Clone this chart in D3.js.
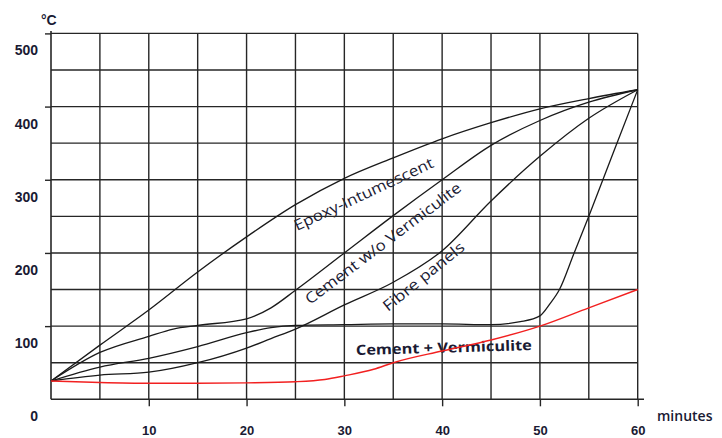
<!DOCTYPE html>
<html>
<head>
<meta charset="utf-8">
<script src="https://cdn.jsdelivr.net/npm/d3@7"></script>
<style>
  body { margin: 0; background: #fff; }
  svg { display: block; }
</style>
</head>
<body>
<svg id="chart" width="722" height="438"></svg>
<script>
// Axis ticks
const minuteTicks = [10, 20, 30, 40, 50, 60];
const degreeTicks = [0, 100, 200, 300, 400, 500];

// Temperature (°C) against time (minutes): [minute, °C]
const epoxyIntumescent = [[0,25],[5,74],[10,122],[15,174],[20,222],[25,266],[30,302],[35,330],[40,356],[45,378],[50,397],[55,411],[60,423]];
const cementWithoutVermiculite = [[0,25],[5,64],[10,86],[12.5,96],[15,101],[20,110],[22.5,125],[25,149],[30,200],[35,251],[40,300],[45,347],[50,381],[55,406],[60,423]];
const fibrePanels = [[0,25],[5,33],[10,37],[15,50],[20,70],[22.5,83],[25,96],[30,129],[35,160],[40,203],[45,271],[50,332],[55,384],[60,423]];
const plateauThenRise = [[0,25],[5,44],[10,56],[15,72],[20,91],[22.5,98],[25,101],[30,102],[35,103],[40,103],[45,102],[48,106],[50,114],[51,130],[52,150],[53.5,200],[55,250],[57.5,337],[60,423]];
const cementVermiculite = [[0,25],[5,23],[10,22],[15,22],[20,22.5],[25,24],[28,27],[30,32],[33,41],[35,50],[40,66],[45,81],[50,100],[55,125],[60,150]];

const svg = d3.select("#chart");
const x = d3.scaleLinear().domain([0, 60]).range([51, 637.7]);
const y = d3.scaleLinear().domain([0, 500]).range([399.3, 33.4]);

const inkText = "#1a1a33";
const gridInk = "#262626";

// Curve labels (drawn under the grid and curves)
const curveLabels = svg.append("g").attr("fill", inkText)
  .style("font-family", "'Open Sans', sans-serif");

function curveLabel(text, px, py, angle, len, size, weight) {
  curveLabels.append("text")
    .attr("transform", `translate(${px},${py}) rotate(${angle})`)
    .attr("textLength", len)
    .attr("lengthAdjust", "spacingAndGlyphs")
    .style("font-size", size + "px")
    .style("font-weight", weight)
    .text(text);
}
curveLabel("Epoxy-Intumescent", 297, 231, -25, 152, 15, 400);
curveLabel("Cement w/o Vermiculite", 310, 305, -37, 191, 15, 400);
curveLabel("Fibre panels", 388, 312, -39, 100, 15, 400);
curveLabel("Cement + Vermiculite", 356, 355, -1.6, 176, 14, 700);

// Grid
const grid = svg.append("g").attr("stroke", gridInk).attr("stroke-width", 1.4);
grid.selectAll("line.v").data(d3.range(5, 61, 5)).join("line")
  .attr("class", "v")
  .attr("x1", d => x(d)).attr("x2", d => x(d))
  .attr("y1", y(500)).attr("y2", y(0));
grid.selectAll("line.h").data(d3.range(50, 501, 50)).join("line")
  .attr("class", "h")
  .attr("x1", x(0)).attr("x2", x(60))
  .attr("y1", d => y(d)).attr("y2", d => y(d));

// X axis
const xAxis = svg.append("g")
  .attr("transform", `translate(0,${y(0)})`)
  .call(d3.axisBottom(x).tickValues(minuteTicks).tickSize(7).tickPadding(19));
xAxis.select(".domain").remove();
xAxis.selectAll(".tick line").attr("stroke", gridInk).attr("stroke-width", 1.4);
xAxis.selectAll(".tick text")
  .attr("fill", inkText)
  .style("font-family", "'Liberation Sans', Arial, sans-serif")
  .style("font-size", "13px").style("font-weight", "bold");
svg.append("line")
  .attr("x1", x(0)).attr("x2", 644)
  .attr("y1", y(0)).attr("y2", y(0))
  .attr("stroke", gridInk).attr("stroke-width", 1.6);

// Y axis
const yAxis = svg.append("g")
  .attr("transform", `translate(${x(0)},0)`)
  .call(d3.axisLeft(y).tickValues(degreeTicks).tickSize(6).tickPadding(7));
yAxis.select(".domain").remove();
yAxis.selectAll(".tick line")
  .attr("stroke", gridInk).attr("stroke-width", 1.4)
  .attr("display", d => d === 0 ? "none" : null);
yAxis.selectAll(".tick text")
  .attr("transform", "translate(0,17)")
  .attr("fill", inkText)
  .style("font-family", "'Liberation Sans', Arial, sans-serif")
  .style("font-size", "14px").style("font-weight", "bold");
svg.append("line")
  .attr("x1", x(0)).attr("x2", x(0))
  .attr("y1", 31).attr("y2", y(0))
  .attr("stroke", gridInk).attr("stroke-width", 1.6);

// Unit labels
svg.append("text")
  .attr("x", 41).attr("y", 25)
  .attr("fill", inkText)
  .style("font-family", "'Liberation Sans', Arial, sans-serif")
  .style("font-size", "14px").style("font-weight", "bold")
  .text("°C");
svg.append("text")
  .attr("x", 657).attr("y", 421)
  .attr("fill", inkText)
  .style("font-family", "'Open Sans', sans-serif")
  .style("font-size", "14px").style("font-weight", 600)
  .text("minutes");

// Curves
const line = d3.line()
  .x(d => x(d[0])).y(d => y(d[1]))
  .curve(d3.curveMonotoneX);

const blackSeries = [epoxyIntumescent, cementWithoutVermiculite, fibrePanels, plateauThenRise];
svg.append("g").selectAll("path").data(blackSeries).join("path")
  .attr("d", line)
  .attr("fill", "none")
  .attr("stroke", "#1a1a1a")
  .attr("stroke-width", 1.3);

svg.append("path")
  .datum(cementVermiculite)
  .attr("d", line)
  .attr("fill", "none")
  .attr("stroke", "#f22020")
  .attr("stroke-width", 1.4);
</script>
</body>
</html>
